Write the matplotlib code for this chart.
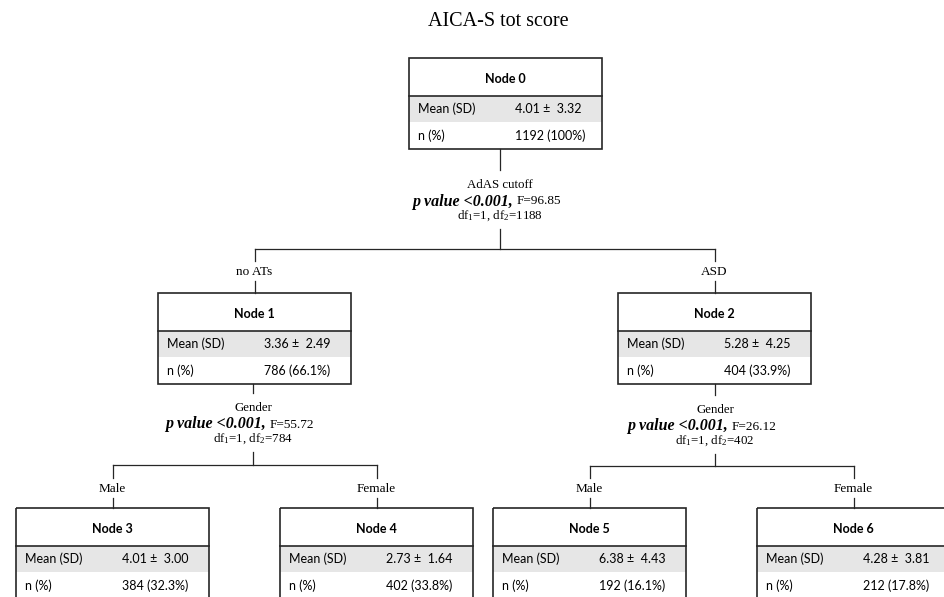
import matplotlib.pyplot as plt
from matplotlib.patches import Rectangle

plt.rcParams['mathtext.fontset'] = 'custom'
plt.rcParams['mathtext.rm'] = 'Liberation Serif'
plt.rcParams['mathtext.it'] = 'Liberation Serif:italic'

# node statistics (node 0 .. node 6)
node_mean = [4.01, 3.36, 5.28, 4.01, 2.73, 6.38, 4.28]
node_sd = [3.32, 2.49, 4.25, 3.00, 1.64, 4.43, 3.81]
node_n = [1192, 786, 404, 384, 402, 192, 212]
node_pct = [100, 66.1, 33.9, 32.3, 33.8, 16.1, 17.8]

# splits: parent node -> (left child, right child)
split_parent = [0, 1, 2]
split_children = [(1, 2), (3, 4), (5, 6)]
split_var = ['AdAS cutoff', 'Gender', 'Gender']
split_F = [96.85, 55.72, 26.12]
split_df1 = [1, 1, 1]
split_df2 = [1188, 784, 402]
branch_labels = [('no ATs', 'ASD'), ('Male', 'Female'), ('Male', 'Female')]

# layout in pixels
box_left = [409, 158, 618, 16, 280, 493, 757]
box_top = [58, 293, 293, 508, 508, 508, 508]
box_w = 193
head_h, grey_h, row_h = 38, 26, 27
split_x = [500, 253, 715]
split_text_y = [185, 408, 410]   # first line of split text
split_bar_y = [249, 465, 466]
branch_label_y = [272, 489, 489]

line_col = '#262626'
sans = 'Lato'
serif = 'Liberation Serif'

fig = plt.figure(figsize=(9.45, 5.97), dpi=100)
ax = fig.add_axes([0, 0, 1, 1])
ax.set_xlim(0, 945)
ax.set_ylim(597, 0)
ax.axis('off')

ax.text(498, 21, 'AICA-S tot score', ha='center', va='center',
        family=serif, fontsize=14.5)


def center(i):
    return box_left[i] + box_w / 2


def draw_node(i):
    x0, y0 = box_left[i], box_top[i]
    y1 = y0 + head_h
    y2 = y1 + grey_h
    y3 = y2 + row_h
    ax.add_patch(Rectangle((x0, y1), box_w, grey_h, facecolor='#e6e6e6',
                           edgecolor='none'))
    ax.add_patch(Rectangle((x0, y0), box_w, y3 - y0, fill=False,
                           edgecolor=line_col, lw=1.2))
    ax.plot([x0, x0 + box_w], [y1, y1], color=line_col, lw=1.2)
    ax.text(center(i), y0 + head_h / 2 + 2, f'Node {i}', ha='center',
            va='center', family=sans, fontweight='bold', fontsize=9)
    ax.text(x0 + 9, y1 + grey_h / 2, 'Mean (SD)', ha='left', va='center',
            family=sans, fontsize=9)
    ax.text(x0 + 106, y1 + grey_h / 2,
            f'{node_mean[i]:.2f} \u00b1  {node_sd[i]:.2f}',
            ha='left', va='center', family=sans, fontsize=9)
    ax.text(x0 + 9, y2 + row_h / 2, 'n (%)', ha='left', va='center',
            family=sans, fontsize=9)
    ax.text(x0 + 106, y2 + row_h / 2, f'{node_n[i]} ({node_pct[i]:g}%)',
            ha='left', va='center', family=sans, fontsize=9)


for i in range(len(node_mean)):
    draw_node(i)

for k, p in enumerate(split_parent):
    cx = split_x[k]
    bottom = box_top[p] + head_h + grey_h + row_h
    ty = split_text_y[k]
    by = split_bar_y[k]
    # stem from parent box to split text
    ax.plot([cx, cx], [bottom, ty - 15], color=line_col, lw=0.9)
    ax.text(cx, ty, split_var[k], ha='center', va='center',
            family=serif, fontsize=9.3)
    ax.text(cx + 13, ty + 16.5, 'p value <0.001,', ha='right', va='center',
            family=serif, fontsize=11.5, fontweight='bold', style='italic')
    ax.text(cx + 17, ty + 16.5, f'F={split_F[k]:.2f}', ha='left',
            va='center', family=serif, fontsize=9.5)
    ax.text(cx, ty + 31,
            f'df$_{{1}}$={split_df1[k]}, df$_{{2}}$={split_df2[k]}',
            ha='center', va='center', family=serif, fontsize=9.3)
    # stem down to horizontal bar
    ax.plot([cx, cx], [ty + 44, by], color=line_col, lw=0.9)
    lc, rc = split_children[k]
    ax.plot([center(lc), center(rc)], [by, by], color=line_col, lw=0.9)
    ly = branch_label_y[k]
    for child, lab in zip((lc, rc), branch_labels[k]):
        x = center(child)
        ax.plot([x, x], [by, ly - 11], color=line_col, lw=0.9)
        ax.text(x, ly, lab, ha='center', va='center', family=serif,
                fontsize=9.5)
        ax.plot([x, x], [ly + 9, box_top[child]], color=line_col, lw=0.9)

fig.savefig('out.png', dpi=100)
